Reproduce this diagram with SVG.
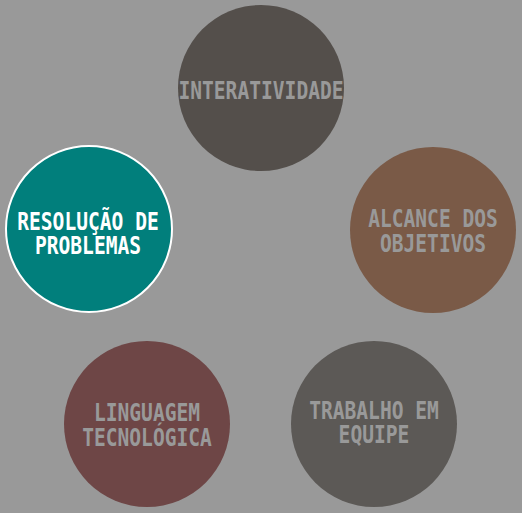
<svg xmlns="http://www.w3.org/2000/svg" width="522" height="513" viewBox="0 0 522 513">
<style>
.lbl{font-family:"DejaVu Sans Mono","Liberation Mono",monospace;font-weight:bold;font-size:19.6px;text-anchor:middle;fill:#999999}
.act{fill:#ffffff}
</style>
<rect width="522" height="513" fill="#999999"/>
<g id="connectors"></g>
<g id="node-interatividade">
<circle cx="261" cy="88" r="83" fill="#544f4b"/>
<text class="lbl" transform="translate(261,98.5) scale(1,1.3)">INTERATIVIDADE</text>
</g>
<g id="node-resolucao">
<circle cx="89" cy="229" r="83" fill="#017f7c" stroke="#ffffff" stroke-width="2"/>
<text class="lbl act" transform="translate(88,230) scale(1,1.3)">RESOLUÇÃO DE</text>
<text class="lbl act" transform="translate(88,253.5) scale(1,1.3)">PROBLEMAS</text>
</g>
<g id="node-alcance">
<circle cx="433" cy="230" r="83" fill="#7a5a47"/>
<text class="lbl" transform="translate(433,227) scale(1,1.3)">ALCANCE DOS</text>
<text class="lbl" transform="translate(433,251.5) scale(1,1.3)">OBJETIVOS</text>
</g>
<g id="node-linguagem">
<circle cx="147" cy="424" r="83" fill="#6e4646"/>
<text class="lbl" transform="translate(147,420.5) scale(1,1.3)">LINGUAGEM</text>
<text class="lbl" transform="translate(147,445.5) scale(1,1.3)">TECNOLÓGICA</text>
</g>
<g id="node-trabalho">
<circle cx="374" cy="424" r="83" fill="#5c5956"/>
<text class="lbl" transform="translate(374,418.5) scale(1,1.3)">TRABALHO EM</text>
<text class="lbl" transform="translate(374,443) scale(1,1.3)">EQUIPE</text>
</g>
</svg>
